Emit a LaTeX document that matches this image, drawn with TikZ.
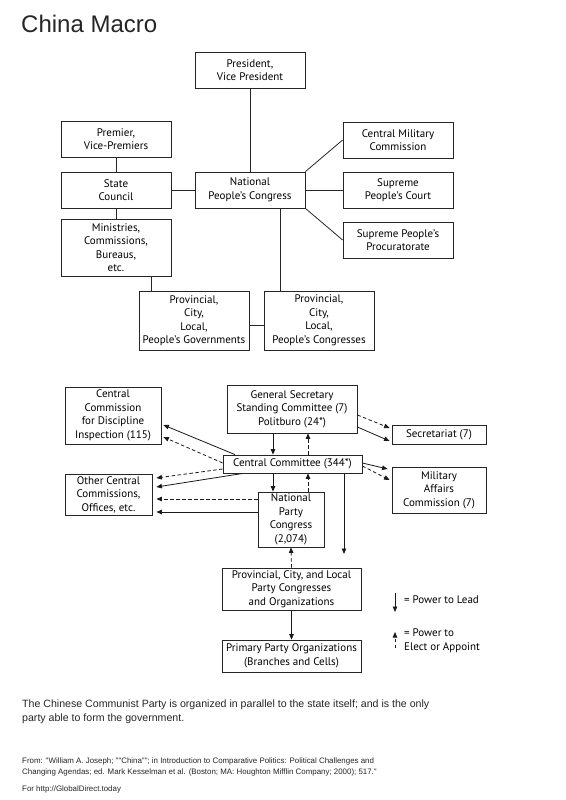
\documentclass[tikz,border=0pt]{standalone}
\usepackage{fontspec}
\setmainfont{PT Sans}
\newfontfamily\helv{Liberation Sans}
\usetikzlibrary{arrows.meta}
\begin{document}
\begin{tikzpicture}[x=1pt,y=-1pt,
  box/.style={draw=black!85, line width=0.8pt, align=center, inner sep=0pt,
    font=\fontsize{11}{13.5}\selectfont},
  sz/.style 2 args={minimum width=#1pt, minimum height=#2pt},
  link/.style={draw=black!85, line width=0.8pt},
  lead/.style={draw=black!90, line width=0.8pt, -{Triangle[length=5.5pt,width=4.5pt]}},
  elect/.style={lead, dash pattern=on 3.5pt off 2.5pt},
  helvtxt/.style={inner sep=0pt, anchor=base west, text=black!85}]
\useasboundingbox (0,0) rectangle (565,800);
\fill[white] (0,0) rectangle (565,800);

% title
\node[helvtxt, font=\helv\fontsize{24}{28}\selectfont] (title) at (21,33) {China Macro};

% ---------- state ----------
\node[box, sz={110}{36}] (pres)  at (250,70)   {President,\\Vice President};
\node[box, sz={110}{36}] (prem)  at (116,139)  {Premier,\\Vice-Premiers};
\node[box, sz={110}{36}] (cmc)   at (398,140)  {Central Military\\Commission};
\node[box, sz={110}{36}] (state) at (116,190)  {State\\Council};
\node[box, sz={110}{36}] (npc)   at (250,190)  {National\\People’s Congress};
\node[box, sz={110}{36}] (court) at (398,190)  {Supreme\\People’s Court};
\node[box, sz={110}{36}] (proc)  at (398,240)  {Supreme People’s\\Procuratorate};
\node[box, sz={110}{57}] (min)   at (116,247.5){Ministries,\\Commissions,\\Bureaus,\\etc.};
\node[box, sz={110}{59}] (pgov)  at (194,320.5){Provincial,\\City,\\Local,\\People’s Governments};
\node[box, sz={110}{59}] (pcong) at (319,320.5){Provincial,\\City,\\Local,\\People’s Congresses};

\draw[link] (pres.south) -- (npc.north);
\draw[link] (prem.south) -- (state.north);
\draw[link] (state.south) -- (min.north);
\draw[link] (state.east) -- (state.east -| npc.west);
\draw[link] (npc.east) -- (npc.east -| court.west);
\draw[link] (npc.north east) -- (cmc.west);
\draw[link] (npc.south east) -- (proc.west);
\draw[link] ([xshift=30pt]npc.south) -- ([xshift=-39pt]pcong.north);
\draw[link] ([xshift=35pt]min.south) -- ([xshift=-43pt]pgov.north);
\draw[link] ([yshift=-4.5pt]pgov.east) -- ([yshift=-4.5pt]pcong.west);

% ---------- party ----------
\node[box, sz={96}{57}]  (ccdi)   at (113,415.5)  {Central\\Commission\\for Discipline\\Inspection (115)};
\node[box, sz={130}{48}] (gs)     at (292,409)    {General Secretary\\Standing Committee (7)\\Politburo (24*)};
\node[box, sz={139}{18}] (cc)     at (292.5,464)  {Central Committee (344*)};
\node[box, sz={87}{41}]  (other)  at (108.5,494.5){Other Central\\Commissions,\\Offices, etc.};
\node[box, sz={66}{55}]  (nparty) at (291,519.5)  {National\\Party\\Congress\\(2,074)};
\node[box, sz={94}{19}]  (sec)    at (439,434.5)  {Secretariat (7)};
\node[box, sz={94}{46}]  (mil)    at (439,490)    {Military\\Affairs\\Commission (7)};
\node[box, sz={139}{42}] (prov)   at (291.5,589)  {Provincial, City, and Local\\Party Congresses\\and Organizations};
\node[box, sz={139}{32}] (prim)   at (291.5,656)  {Primary Party Organizations\\(Branches and Cells)};

% vertical
\draw[lead]  ([xshift=-19pt]gs.south) -- ([xshift=-19.5pt]cc.north);
\draw[elect] ([xshift=15.5pt]cc.north) -- ([xshift=16pt]gs.south);
\draw[lead]  ([xshift=-19.5pt]cc.south) -- ([xshift=-18pt]nparty.north);
\draw[elect] ([xshift=17pt]nparty.north) -- ([xshift=15.5pt]cc.south);
\coordinate (ccend) at (344,554);
\draw[lead]  ([xshift=51.5pt]cc.south) -- (ccend);
\draw[elect] (prov.north) -- (nparty.south);
\draw[lead]  (prov.south) -- (prim.north);

% right side
\draw[elect] ([yshift=-6pt]gs.east) -- ([xshift=-2pt,yshift=6.5pt]sec.west);
\draw[lead]  ([yshift=-18pt]gs.east) -- ([xshift=-2pt,yshift=-6.5pt]sec.west);
\draw[lead]  ([yshift=1pt]cc.east) -- ([xshift=-4pt,yshift=21pt]mil.west);
\draw[elect] ([yshift=-2pt]cc.east) -- ([xshift=-2pt,yshift=10pt]mil.west);

% left side
\draw[lead]  ([xshift=-57.5pt]cc.north) -- ([xshift=2pt,yshift=-9.5pt]ccdi.east);
\draw[elect] ([yshift=1pt]cc.west) -- ([xshift=2pt,yshift=-21.5pt]ccdi.east);
\draw[elect] ([yshift=-5pt]cc.west) -- ([xshift=4pt,yshift=16.5pt]other.east);
\draw[lead]  ([xshift=-49.5pt]cc.south) -- ([xshift=4pt,yshift=7.5pt]other.east);
\draw[elect] ([yshift=20.5pt]nparty.west) -- ([xshift=4pt,yshift=-4.5pt]other.east);
\draw[lead]  ([yshift=7.5pt]nparty.west) -- ([xshift=4pt,yshift=-17.5pt]other.east);

% legend
\coordinate (l1a) at (395,593);
\coordinate (l1b) at (395,612);
\coordinate (l2a) at (395,648);
\coordinate (l2b) at (395,632);
\draw[lead]  (l1a) -- (l1b);
\draw[elect] (l2a) -- (l2b);
\node[anchor=west, inner sep=0pt, font=\fontsize{11}{13.5}\selectfont] (leg1) at (404,600) {= Power to Lead};
\node[anchor=west, inner sep=0pt, align=left, font=\fontsize{11}{13.5}\selectfont] (leg2) at (404,640.5) {= Power to\\Elect or Appoint};

% text
\node[helvtxt, font=\helv\fontsize{10.6}{14}\selectfont] (para1) at (22,707.3) {The Chinese Communist Party is organized in parallel to the state itself; and is the only};
\node[helvtxt, font=\helv\fontsize{10.6}{14}\selectfont] (para2) at (22,721) {party able to form the government.};
\node[helvtxt, font=\helv\fontsize{7.9}{10}\selectfont] (src1) at (22,763) {From: "William A. Joseph; ""China"";  in Introduction to Comparative Politics: Political Challenges and};
\node[helvtxt, font=\helv\fontsize{7.9}{10}\selectfont] (src2) at (22,774) {Changing Agendas; ed. Mark Kesselman et al. (Boston; MA: Houghton Mifflin Company; 2000); 517."};
\node[helvtxt, font=\helv\fontsize{7.9}{10}\selectfont] (src3) at (22,791) {For http://GlobalDirect.today};
\end{tikzpicture}
\end{document}
